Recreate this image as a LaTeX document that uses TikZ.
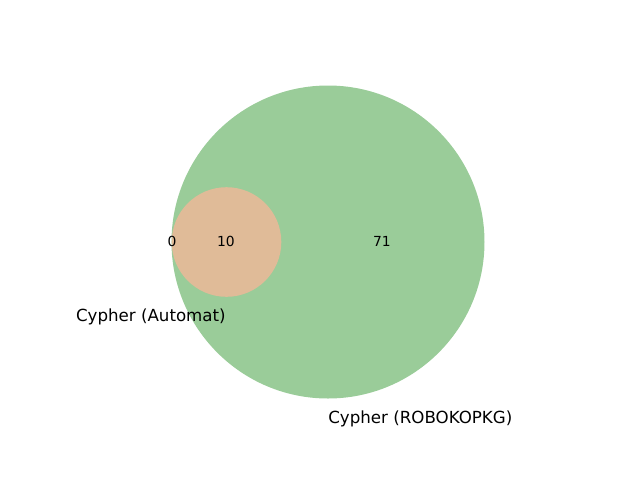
\documentclass[tikz,border=0pt]{standalone}
\usepackage{fontspec}
\setmainfont{DejaVu Sans}
\definecolor{vgreen}{HTML}{9ACC99}
\definecolor{vorange}{HTML}{E0BB98}
\tikzset{
  num/.style={font=\fontsize{10.4}{12}\selectfont, inner sep=0pt},
  setlabel/.style={font=\fontsize{12.5}{14}\selectfont, inner sep=0pt},
}
\begin{document}
\begin{tikzpicture}[x=0.75pt,y=-0.75pt]
\useasboundingbox (0,0) rectangle (640,480);
\fill[vgreen] (328,242) circle[radius=156.5];
\fill[vorange] (226.5,242) circle[radius=54.8];
\node[num] (n0) at (172,241) {0};
\node[num] (n10) at (226,241) {10};
\node[num] (n71) at (382,241) {71};
\node[setlabel, anchor=east] (la) at (226,317) {Cypher (Automat)};
\node[setlabel, anchor=west] (lb) at (328,419) {Cypher (ROBOKOPKG)};
\end{tikzpicture}
\end{document}
